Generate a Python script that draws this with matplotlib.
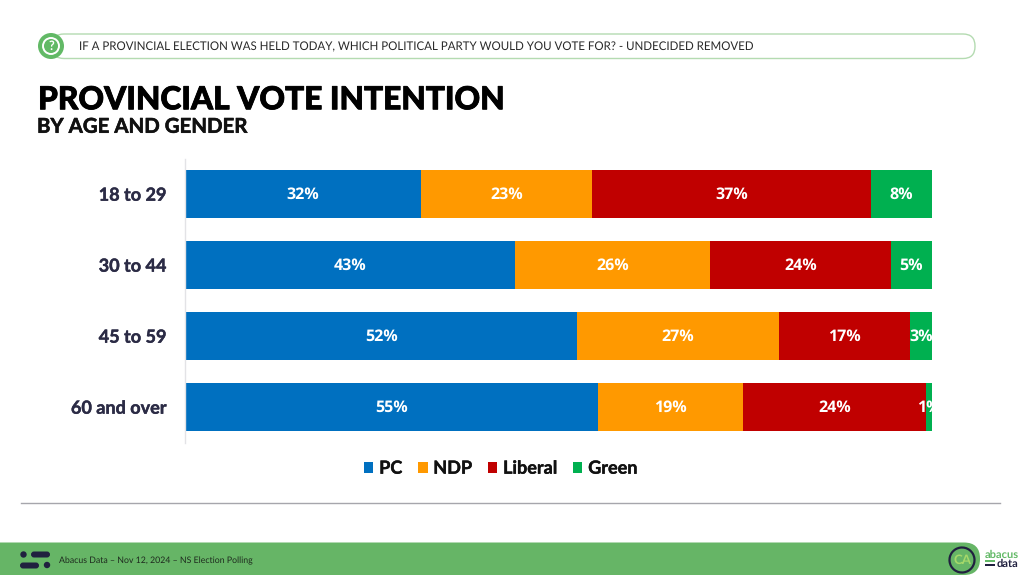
#!/usr/bin/env python3
import numpy as np
import matplotlib
matplotlib.use("Agg")
import matplotlib.pyplot as plt
import matplotlib.patheffects as pe
from matplotlib.patches import FancyBboxPatch, Circle, Rectangle, Arc

plt.rcParams["font.family"] = ["Lato", "DejaVu Sans"]
plt.rcParams["text.hinting"] = "no_hinting"
plt.rcParams["text.hinting_factor"] = 8

categories = ["18 to 29", "30 to 44", "45 to 59", "60 and over"]
parties = ["PC", "NDP", "Liberal", "Green"]
colors = ["#0070C0", "#FF9900", "#C00000", "#00B050"]

# bar lengths as drawn (the original normalises to 100%)
pc = [31.6, 44.2, 52.5, 55.3]
ndp = [22.9, 26.1, 27.0, 19.4]
liberal = [37.3, 24.2, 17.5, 24.5]
green = [8.2, 5.5, 3.0, 0.8]

# printed labels
pc_lab = ["32%", "43%", "52%", "55%"]
ndp_lab = ["23%", "26%", "27%", "19%"]
liberal_lab = ["37%", "24%", "17%", "24%"]
green_lab = ["8%", "5%", "3%", "1%"]

W, H = 1024, 576
fig = plt.figure(figsize=(W / 100, H / 100), dpi=100, facecolor="white")


def thicken(t, w, col):
    t.set_path_effects([pe.withStroke(linewidth=w, foreground=col)])


# pixel canvas for the slide furniture
bg = fig.add_axes([0, 0, 1, 1], zorder=0)
bg.set_xlim(0, W)
bg.set_ylim(H, 0)
bg.axis("off")

# question pill
bg.add_patch(FancyBboxPatch((52, 34), 923, 24.5, boxstyle="round,pad=0,rounding_size=12",
                            fc="white", ec="#B4DBB1", lw=1.0))
bg.add_patch(Circle((51, 46), 13, fc="#62B966", ec="none"))
bg.add_patch(Circle((51, 46), 8, fc="none", ec="white", lw=1.4))
bg.text(51, 46.5, "?", color="white", fontsize=9, fontweight="bold", ha="center", va="center")
bg.text(79, 46.5, "IF A PROVINCIAL ELECTION WAS HELD TODAY, WHICH POLITICAL PARTY WOULD YOU VOTE FOR? - UNDECIDED REMOVED",
        fontsize=8.3, color="#2A2A2A", va="center", ha="left")

# titles
t1 = bg.text(38, 100, "PROVINCIAL VOTE INTENTION", fontsize=22.8, fontweight="black", color="black",
             va="center", ha="left")
thicken(t1, 0.6, "black")
t2 = bg.text(37, 127, "BY AGE AND GENDER", fontsize=14.7, fontweight="bold", color="#111111",
             va="center", ha="left")
thicken(t2, 0.4, "#111111")

# rule and footer
bg.plot([21, 1000], [503, 503], color="#A6A6AC", lw=1.0)
bg.add_patch(FancyBboxPatch((-30, 542.5), 1010, 32.5, boxstyle="round,pad=0,rounding_size=16",
                            fc="#66B566", ec="none"))
navy = "#20203F"
bg.add_patch(Circle((23.5, 554.5), 3.2, fc=navy, ec="none"))
bg.add_patch(FancyBboxPatch((31, 551.5), 19, 6, boxstyle="round,pad=0,rounding_size=3", fc=navy, ec="none"))
bg.add_patch(FancyBboxPatch((20, 562.5), 19, 6, boxstyle="round,pad=0,rounding_size=3", fc=navy, ec="none"))
bg.add_patch(Circle((47, 565), 3.2, fc=navy, ec="none"))
bg.text(59, 560.5, "Abacus Data – Nov 12, 2024 – NS Election Polling", fontsize=6.3, color="#1E2A1E",
        va="center", ha="left")

# CA badge and wordmark
bg.add_patch(Arc((962, 560), 25, 25, theta1=-75, theta2=285, ec=navy, lw=1.6))
bg.text(962, 560.5, "CA", fontsize=9.5, fontweight="bold", color="#A6D86A", ha="center", va="center")
bg.text(985, 554.5, "abacus", fontsize=8, fontweight="bold", color="#62B966", va="center", ha="left")
bg.text(997, 563.5, "data", fontsize=8, fontweight="bold", color=navy, va="center", ha="left")
bg.add_patch(Rectangle((985, 560), 10, 2.2, fc="#62B966", ec="none"))
bg.add_patch(Rectangle((985, 564), 10, 2.2, fc=navy, ec="none"))

# chart: 185..932 px wide, 158.5..442.5 px tall
ax = fig.add_axes([185 / W, 1 - 442.5 / H, 747 / W, 284 / H], zorder=1)
ax.patch.set_alpha(0)
y = np.arange(len(categories))
series = [pc, ndp, liberal, green]
labels = [pc_lab, ndp_lab, liberal_lab, green_lab]
left = np.zeros(len(categories))
for name, vals, labs, col in zip(parties, series, labels, colors):
    vals = np.array(vals)
    ax.barh(y, vals, left=left, height=0.69, color=col, label=name, linewidth=0)
    for yi, l, v, t in zip(y, left, vals, labs):
        ax.text(l + v / 2, yi + 0.01, t, color="white", fontsize=11.5, fontweight="bold",
                family=["Open Sans", "DejaVu Sans"], ha="center", va="center", clip_on=True)
    left = left + vals

ax.set_xlim(0, 100)
ax.set_ylim(3.5, -0.5)
ax.set_yticks(y)
ax.set_yticklabels(categories, fontsize=13, fontweight="bold", color="#2B2B45")
ax.set_xticks([])
ax.tick_params(axis="y", length=0, pad=13.5)
for lab in ax.get_yticklabels():
    thicken(lab, 0.3, "#2B2B45")
for s in ["top", "right", "bottom"]:
    ax.spines[s].set_visible(False)
ax.spines["left"].set_color("#E3E3E6")
ax.spines["left"].set_linewidth(1)

leg = ax.legend(loc="center", bbox_to_anchor=(500.5 / W, 1 - 468.5 / H), bbox_transform=fig.transFigure,
                ncol=4, frameon=False, prop={"size": 13, "weight": "bold"},
                handlelength=0.54, handleheight=0.54, handletextpad=0.32, columnspacing=0.86,
                borderpad=0, borderaxespad=0)
for t in leg.get_texts():
    t.set_color("#111111")
    thicken(t, 0.3, "#111111")

fig.savefig("out.png", dpi=100)
